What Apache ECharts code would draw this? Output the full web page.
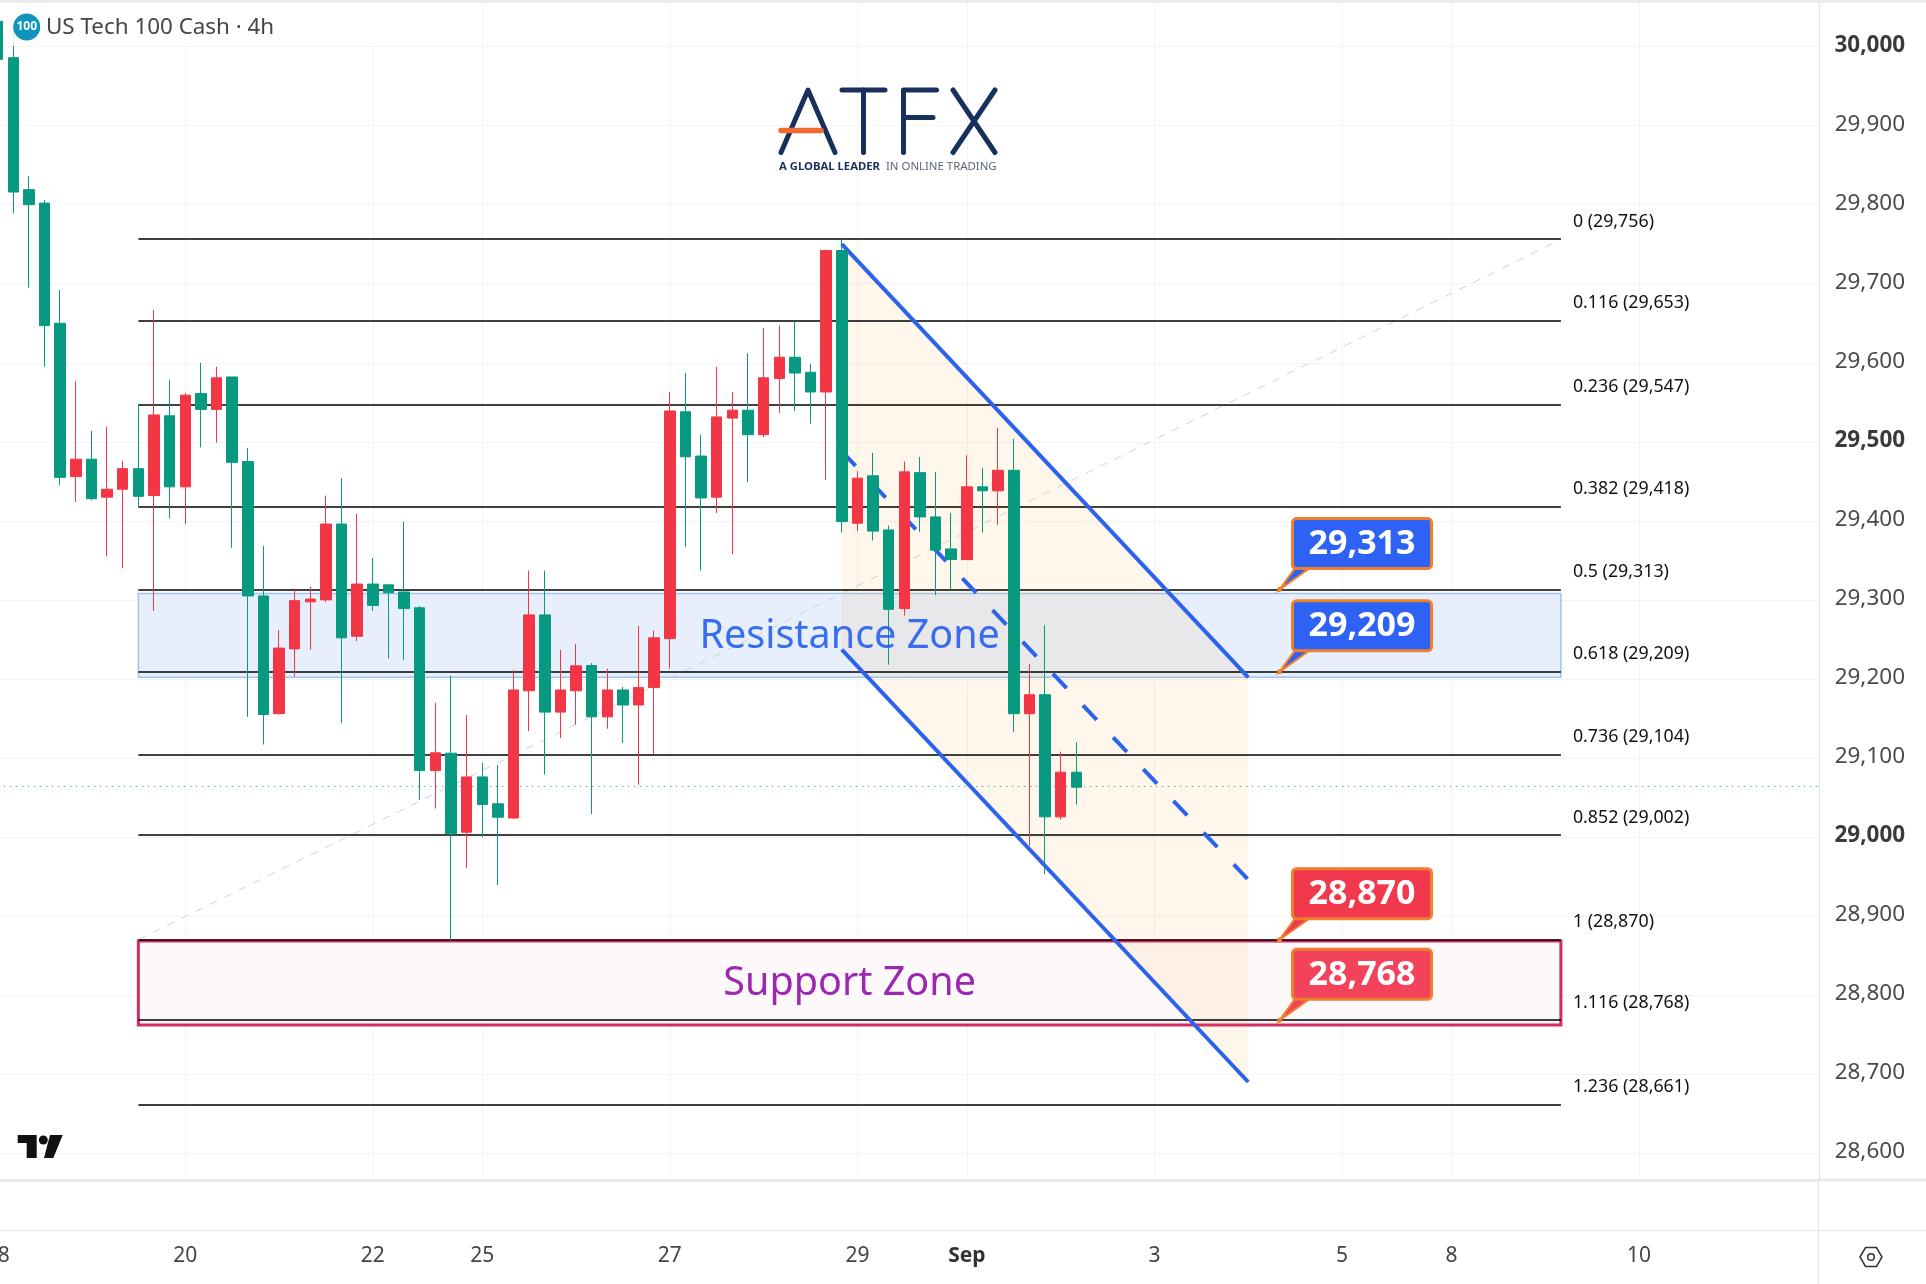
<!DOCTYPE html>
<html>
<head>
<meta charset="utf-8">
<style>html,body{margin:0;padding:0;background:#fff}#c{width:1926px;height:1284px}</style>
<script src="https://cdn.jsdelivr.net/npm/echarts@6/dist/echarts.min.js"></script>
</head>
<body>
<div id="c"></div>
<script>
// Candles, oldest first. The first candle sits in time slot 1.
const firstCandleSlot = 1;
const opens  = [30032,29986,29819,29802,29650,29456,29478,29430,29440,29466,29432,29533,29443,29561,29541,29582,29475,29305,29156,29238,29297.5,29300,29396,29254,29320,29319,29310,29290,29084,29106,29006,29076,29042,29024,29185,29281,29158,29185,29217,29152,29186,29167,29189,29251,29538,29482,29430,29530,29540,29509,29580,29607,29588,29563,29742,29397,29457,29388.5,29289,29461,29405,29364.5,29351,29443,29438,29464,29156,29180,29025.5,29082];
const closes = [29984,29816,29800,29647,29455,29478,29428,29440,29466,29431,29534,29443,29559,29541,29581,29474,29305,29155,29239,29299,29301,29396,29252,29320,29293,29309,29289,29084,29106.5,29004,29076,29041,29025,29186,29281,29158,29186,29216.5,29152,29186,29167,29189,29252,29539,29481,29429,29531.5,29540,29509,29581,29607,29587,29563,29742,29399,29454,29387,29288,29462,29405,29363,29351,29443,29438,29464,29156,29180,29025.5,29082,29063];
const lows   = [29960,29789,29695,29595,29445,29424,29426,29355,29340,29418,29286,29403,29396,29493,29499,29366,29152,29117,29155,29203,29237,29297,29144,29248,29286,29226,29224,29047,29036,28869,28961,29000,28939,29023,29134,29079,29125,29142,29029,29137,29119,29066,29105,29213,29367,29337,29410,29358,29449,29506,29536.5,29539,29523,29452,29385,29387,29375,29218,29280,29386,29306,29313,29351,29385,29395,29133,28989,28953,29022,29041];
const highs  = [30050,30021,29836,29806,29692,29577,29514,29519,29476,29548,29667,29578,29562,29600,29595,29582,29492,29368,29262,29313,29317,29432,29454,29409,29353,29320,29399,29292,29170,29204,29154.5,29094,29091,29211,29337,29337,29237,29244,29220,29213,29190,29267,29261,29563,29587,29509,29595,29563,29612,29644,29647,29652,29598.5,29743,29756,29463,29486,29394,29475,29481,29462,29410,29483,29467,29518,29504,29219,29268,29108,29120];

// Time axis
const slotCount = 118;
const timeTickSlots  = [1,13,25,32,44,56,63,75,87,94,106];
const timeTickLabels = ['18','20','22','25','27','29','Sep','3','5','8','10'];

// Price axis
const priceMin = 28566, priceMax = 30059;
const priceTicks = [28600,28700,28800,28900,29000,29100,29200,29300,29400,29500,29600,29700,29800,29900,30000];
const priceTickLabels = ['28,600','28,700','28,800','28,900','29,000','29,100','29,200','29,300','29,400','29,500','29,600','29,700','29,800','29,900','30,000'];
const boldPriceTicks = [29000,29500,30000];
const lastPrice = 29064;

// Fibonacci
const fibStartSlot = 10, fibEndSlot = 101;
const fibPrices = [29756,29653,29547,29418,29313,29209,29104,29002,28870,28768,28661];
const fibLabels = ['0 (29,756)','0.116 (29,653)','0.236 (29,547)','0.382 (29,418)','0.5 (29,313)','0.618 (29,209)','0.736 (29,104)','0.852 (29,002)','1 (28,870)','1.116 (28,768)','1.236 (28,661)'];

// Zones
const zoneNames  = ['Resistance Zone','Support Zone'];
const zoneTops   = [29308,28868.5];
const zoneBottoms= [29202,28762];

// Falling channel
const channelSlots = [55,81];
const channelUpper = [29750,29202];
const channelMid   = [29488,28946];
const channelLower = [29237,28690];

// Callouts
const calloutSlot = 83;
const calloutPrices = [29313,29209,28870,28768];
const calloutLabels = ['29,313','29,209','28,870','28,768'];
const calloutFills  = ['#2d62f5','#2d62f5','#f1384d','#f3435b'];

const FONT = '"Noto Sans"';
const categories = [];
for (let i = 0; i < slotCount; i++) {
  const k = timeTickSlots.indexOf(i);
  categories.push(k >= 0 ? timeTickLabels[k] : '');
}
const candleData = categories.map((_, i) => {
  const n = i - firstCandleSlot;
  return n >= 0 && n < opens.length ? [opens[n], closes[n], lows[n], highs[n]] : ['-','-','-','-'];
});
const isTimeTick = (i) => timeTickSlots.indexOf(i) >= 0;

const option = {
  animation: false,
  backgroundColor: '#fff',
  grid: { left: -25.78, top: 0, width: 1844.6, height: 1180, containLabel: false, outerBoundsMode: 'none' },
  xAxis: {
    type: 'category', data: categories, boundaryGap: true,
    axisLine: { show: true, onZero: false, lineStyle: { color: '#e9e9e9', width: 3 } },
    axisTick: { show: false, alignWithLabel: true, interval: isTimeTick },
    axisLabel: {
      interval: isTimeTick, margin: 66, hideOverlap: false, showMinLabel: true, showMaxLabel: true,
      color: '#444', fontFamily: FONT, fontSize: 21,
      formatter: v => v === 'Sep' ? '{b|Sep}' : v,
      rich: { b: { fontWeight: 'bold', color: '#333', fontFamily: FONT, fontSize: 21 } }
    },
    splitLine: { show: true, interval: isTimeTick, alignWithLabel: true, lineStyle: { color: '#f2f3f5', width: 1 } }
  },
  yAxis: {
    type: 'value', position: 'right', min: priceMin, max: priceMax, scale: true,
    axisLine: { show: true, lineStyle: { color: '#e0e3eb', width: 1 } },
    axisTick: { show: false, customValues: priceTicks },
    axisLabel: {
      customValues: priceTicks, margin: 51, align: 'center', showMinLabel: true, showMaxLabel: true,
      fontFamily: FONT, fontSize: 22.5, color: '#4a4a4a',
      formatter: v => {
        const s = priceTickLabels[priceTicks.indexOf(v)];
        return boldPriceTicks.indexOf(v) >= 0 ? '{b|' + s + '}' : '{n|' + s + '}';
      },
      rich: {
        b: { fontFamily: FONT, fontSize: 22.5, fontWeight: 'bold', color: '#3a3a3a', padding: [0,0,3,0] },
        n: { fontFamily: FONT, fontSize: 22.5, color: '#4a4a4a', padding: [0,0,3,0] }
      }
    },
    splitLine: { show: true, lineStyle: { color: '#f2f3f5', width: 1 } }
  },
  series: [
    { // zones
      type: 'custom', name: 'Zones', z: 1, silent: true, clip: false,
      encode: { x: 0, y: 1 },
      data: zoneNames.map((_, i) => [fibStartSlot, zoneTops[i], fibEndSlot, zoneBottoms[i]]),
      renderItem: (p, api) => {
        const a = api.coord([api.value(0), api.value(1)]), b = api.coord([api.value(2), api.value(3)]);
        const blue = p.dataIndex === 0;
        return { type: 'rect', shape: { x: a[0], y: a[1], width: b[0]-a[0], height: b[1]-a[1] },
          style: { fill: blue ? '#e7eefc' : '#fdf8fa', stroke: blue ? '#a3c4ea' : '#d42a68', lineWidth: blue ? 1.5 : 3 } };
      }
    },
    { // channel fill
      type: 'custom', name: 'Channel fill', z: 1, silent: true, clip: false,
      encode: { x: 0, y: 1 },
      data: [[channelSlots[0], channelUpper[0]]],
      renderItem: (p, api) => ({
        type: 'polygon',
        shape: { points: [
          api.coord([channelSlots[0], channelUpper[0]]), api.coord([channelSlots[1], channelUpper[1]]),
          api.coord([channelSlots[1], channelLower[1]]), api.coord([channelSlots[0], channelLower[0]]) ] },
        style: { fill: 'rgba(255,152,0,0.075)' }
      })
    },
    { // diagonal fib trend line
      type: 'custom', name: 'Fib trend', z: 1, silent: true, clip: false,
      encode: { x: 0, y: 1 },
      data: [[fibStartSlot, fibPrices[8]]],
      renderItem: (p, api) => {
        const a = api.coord([fibStartSlot, fibPrices[8]]), b = api.coord([fibEndSlot, fibPrices[0]]);
        return { type: 'line', shape: { x1: a[0], y1: a[1], x2: b[0], y2: b[1] },
          style: { stroke: '#d2d2d2', lineWidth: 1, lineDash: [8,8] } };
      }
    },
    { // fib levels
      type: 'custom', name: 'Fibonacci', z: 1, silent: true, clip: false,
      encode: { x: 0, y: 1 },
      data: fibPrices.map(v => [fibStartSlot, v, fibEndSlot]),
      renderItem: (p, api) => {
        const a = api.coord([api.value(0), api.value(1)]), b = api.coord([api.value(2), api.value(1)]);
        const y = Math.round(a[1]);
        return { type: 'group', children: [
          { type: 'line', shape: { x1: a[0], y1: y, x2: b[0], y2: y }, style: { stroke: '#000', lineWidth: 1.6 } },
          { type: 'text', style: { x: b[0] + 12, y: a[1] - 17.5, text: fibLabels[p.dataIndex], fill: '#111',
              font: '17.8px ' + FONT, align: 'left', verticalAlign: 'middle' } }
        ] };
      }
    },
    { // channel lines
      type: 'custom', name: 'Channel', z: 1, silent: true, clip: false,
      encode: { x: 0, y: 1 },
      data: [[channelSlots[0], channelUpper[0]]],
      renderItem: (p, api) => {
        const seg = (arr, dash) => {
          const a = api.coord([channelSlots[0], arr[0]]), b = api.coord([channelSlots[1], arr[1]]);
          return { type: 'line', shape: { x1: a[0], y1: a[1], x2: b[0], y2: b[1] },
            style: { stroke: '#2b62ee', lineWidth: 4, lineDash: dash || null } };
        };
        return { type: 'group', children: [seg(channelUpper), seg(channelLower), seg(channelMid, [20,23.8])] };
      }
    },
    { // candles
      type: 'candlestick', name: 'US Tech 100 Cash', z: 3, silent: true, clip: true,
      data: candleData, barWidth: 11,
      itemStyle: { color: '#f23645', color0: '#089981', borderColor: '#f23645', borderColor0: '#089981', borderWidth: 1 },
      markLine: {
        silent: true, symbol: 'none', animation: false, z: 2,
        label: { show: false },
        data: [{ yAxis: lastPrice }],
        lineStyle: { color: '#1a9a8a', type: [1,5], width: 1 }
      }
    },
    { // zone names
      type: 'custom', name: 'Zone names', z: 5, silent: true, clip: false,
      encode: { x: 0, y: 1 },
      data: zoneNames.map((_, i) => [fibStartSlot, zoneTops[i], fibEndSlot, zoneBottoms[i]]),
      renderItem: (p, api) => {
        const a = api.coord([api.value(0), api.value(1)]), b = api.coord([api.value(2), api.value(3)]);
        const blue = p.dataIndex === 0;
        return { type: 'text', style: { x: (a[0]+b[0])/2, y: (a[1]+b[1])/2 + 1, text: zoneNames[p.dataIndex],
          fill: blue ? 'rgba(41,98,240,0.92)' : '#9c27b0', font: '39.5px ' + FONT, align: 'center', verticalAlign: 'middle' } };
      }
    },
    { // callouts
      type: 'custom', name: 'Callouts', z: 6, silent: true, clip: false,
      encode: { x: 0, y: 1 },
      data: calloutPrices.map(v => [calloutSlot, v]),
      renderItem: (p, api) => {
        const c = api.coord([api.value(0), api.value(1)]);
        const fill = calloutFills[p.dataIndex];
        const o = '#f07f2c';
        return { type: 'group', x: c[0], y: c[1], children: [
          { type: 'polygon', shape: { points: [[0,0],[16,-22],[31,-22]] }, style: { fill: fill, stroke: o, lineWidth: 2 } },
          { type: 'rect', shape: { x: 13, y: -71, width: 139, height: 50, r: 4 }, style: { fill: fill, stroke: o, lineWidth: 3 } },
          { type: 'circle', shape: { cx: 0, cy: 0, r: 2.5 }, style: { fill: o } },
          { type: 'text', style: { x: 82.5, y: -45, text: calloutLabels[p.dataIndex], fill: '#fff',
              font: 'bold 34px ' + FONT, align: 'center', verticalAlign: 'middle' } }
        ] };
      }
    }
  ],
  graphic: { elements: [
    { type: 'rect', z: 90, silent: true, shape: { x: 0, y: 0, width: 1926, height: 3 }, style: { fill: '#ececec' } },
    { type: 'rect', z: 90, silent: true, shape: { x: 3, y: 3, width: 375, height: 43 }, style: { fill: 'rgba(255,255,255,0.85)' } },
    { type: 'circle', z: 91, silent: true, shape: { cx: 26.7, cy: 27, r: 13.5 }, style: { fill: '#0e94bd' } },
    { type: 'text', z: 92, silent: true, style: { x: 26.7, y: 27, text: '100', fill: '#fff', font: 'bold 12px ' + FONT, align: 'center', verticalAlign: 'middle' } },
    { type: 'text', z: 92, silent: true, style: { x: 46, y: 28, text: 'US Tech 100 Cash · 4h', fill: '#454545', font: '22.4px ' + FONT, align: 'left', verticalAlign: 'middle' } },

    // ATFX logo
    { type: 'polyline', z: 92, silent: true, shape: { points: [[781,152.5],[808,90],[835,152.5]] }, style: { stroke: '#17315c', lineWidth: 5, lineCap: 'round', lineJoin: 'round', fill: 'none' } },
    { type: 'line', z: 93, silent: true, shape: { x1: 781, y1: 130.5, x2: 821, y2: 130.5 }, style: { stroke: '#f26a2e', lineWidth: 5.5, lineCap: 'round' } },
    { type: 'line', z: 92, silent: true, shape: { x1: 842, y1: 90, x2: 885, y2: 90 }, style: { stroke: '#17315c', lineWidth: 5, lineCap: 'round' } },
    { type: 'line', z: 92, silent: true, shape: { x1: 863.5, y1: 90, x2: 863.5, y2: 152.5 }, style: { stroke: '#17315c', lineWidth: 5, lineCap: 'round' } },
    { type: 'polyline', z: 92, silent: true, shape: { points: [[936.5,90],[903.5,90],[903.5,152.5]] }, style: { stroke: '#17315c', lineWidth: 5, lineCap: 'round', lineJoin: 'round', fill: 'none' } },
    { type: 'line', z: 92, silent: true, shape: { x1: 903.5, y1: 117.5, x2: 933, y2: 117.5 }, style: { stroke: '#17315c', lineWidth: 5, lineCap: 'round' } },
    { type: 'line', z: 92, silent: true, shape: { x1: 953, y1: 90, x2: 995, y2: 152.5 }, style: { stroke: '#17315c', lineWidth: 5, lineCap: 'round' } },
    { type: 'line', z: 92, silent: true, shape: { x1: 995, y1: 90, x2: 953, y2: 152.5 }, style: { stroke: '#17315c', lineWidth: 5, lineCap: 'round' } },
    { type: 'text', z: 92, silent: true, style: { x: 779, y: 167, text: 'A GLOBAL LEADER', fill: '#17315c', font: 'bold 11.3px ' + FONT, align: 'left', verticalAlign: 'middle' } },
    { type: 'text', z: 92, silent: true, style: { x: 886, y: 167, text: 'IN ONLINE TRADING', fill: '#5b6678', font: '11.4px ' + FONT, align: 'left', verticalAlign: 'middle' } },

    // TradingView mark
    { type: 'polygon', z: 92, silent: true, shape: { points: [[17.7,1135],[36.7,1135],[36.7,1158],[26.7,1158],[26.7,1143],[17.7,1143]] }, style: { fill: '#111' } },
    { type: 'circle', z: 92, silent: true, shape: { cx: 43.3, cy: 1140, r: 4.5 }, style: { fill: '#111' } },
    { type: 'polygon', z: 92, silent: true, shape: { points: [[50,1135],[62.7,1135],[53.3,1158],[44,1158]] }, style: { fill: '#111' } },

    // axis furniture
    { type: 'line', z: 90, silent: true, shape: { x1: 0, y1: 1230.5, x2: 1926, y2: 1230.5 }, style: { stroke: '#e6e6e6', lineWidth: 1 } },
    { type: 'line', z: 90, silent: true, shape: { x1: 1818.5, y1: 1180, x2: 1818.5, y2: 1284 }, style: { stroke: '#e0e3eb', lineWidth: 1 } },
    { type: 'line', z: 90, silent: true, shape: { x1: 1818, y1: 1180, x2: 1926, y2: 1180 }, style: { stroke: '#e9e9e9', lineWidth: 3 } },
    { type: 'polygon', z: 92, silent: true, shape: { points: [[1860,1257],[1865.5,1247.5],[1876.5,1247.5],[1882,1257],[1876.5,1266.5],[1865.5,1266.5]] }, style: { fill: 'none', stroke: '#333', lineWidth: 1.5 } },
    { type: 'circle', z: 92, silent: true, shape: { cx: 1871, cy: 1257, r: 3.3 }, style: { fill: 'none', stroke: '#333', lineWidth: 1.5 } }
  ] }
};
const chart = echarts.init(document.getElementById('c'), null, { renderer: 'canvas', width: 1926, height: 1284 });
chart.setOption(option);
</script>
</body>
</html>
